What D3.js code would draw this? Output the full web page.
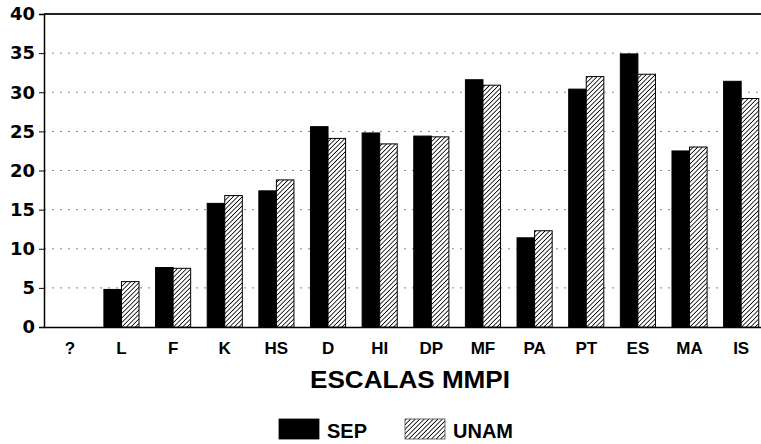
<!DOCTYPE html>
<html>
<head>
<meta charset="utf-8">
<script src="https://cdn.jsdelivr.net/npm/d3@7"></script>
<style>
  body { margin: 0; background: #fff; }
  text { fill: #000; }
</style>
</head>
<body>
<div class="chart"></div>
<script>
const categories = ['?', 'L', 'F', 'K', 'HS', 'D', 'HI', 'DP', 'MF', 'PA', 'PT', 'ES', 'MA', 'IS'];
const sepValues  = [0, 4.8, 7.6, 15.8, 17.4, 25.6, 24.8, 24.4, 31.6, 11.4, 30.4, 34.9, 22.5, 31.4];
const unamValues = [0, 5.8, 7.5, 16.8, 18.8, 24.1, 23.4, 24.3, 30.9, 12.3, 32.0, 32.3, 23.0, 29.2];
const yTicks = [0, 5, 10, 15, 20, 25, 30, 35, 40];
const seriesNames = ['SEP', 'UNAM'];

const fullWidth = 761;
const fullHeight = 444;
const margin = {top: 14, right: -6, bottom: 117, left: 44};
const width = fullWidth - margin.left - margin.right;
const height = fullHeight - margin.top - margin.bottom;

const labelFont = '"Liberation Sans", Arial, sans-serif';

const svg = d3.select('.chart')
    .append('svg')
        .attr('width', fullWidth)
        .attr('height', fullHeight);

// diagonal hatch for the UNAM bars
const hatch = svg.append('defs').append('pattern')
    .attr('id', 'hatch')
    .attr('patternUnits', 'userSpaceOnUse')
    .attr('width', 3.2)
    .attr('height', 3.2)
    .attr('patternTransform', 'rotate(45)');
hatch.append('rect').attr('width', 3.2).attr('height', 3.2).attr('fill', '#fff');
hatch.append('line')
    .attr('x1', 0).attr('y1', 0).attr('x2', 0).attr('y2', 3.2)
    .attr('stroke', '#000').attr('stroke-width', 1.6);

const g = svg.append('g')
    .attr('transform', `translate(${margin.left}, ${margin.top})`);

const yScale = d3.scaleLinear()
    .domain([0, 40])
    .range([height, 0]);

const xScale = d3.scaleBand()
    .domain(categories)
    .range([0, width])
    .paddingInner(0.32)
    .paddingOuter(0.16);

const xSub = d3.scaleBand()
    .domain(seriesNames)
    .range([0, xScale.bandwidth()]);

// dotted gridlines
g.append('g')
    .selectAll('line')
    .data(yTicks.filter(d => d > 0 && d < 40))
    .enter()
    .append('line')
    .attr('x1', 0)
    .attr('x2', width)
    .attr('y1', d => yScale(d))
    .attr('y2', d => yScale(d))
    .attr('stroke', '#888')
    .attr('stroke-width', 1)
    .attr('stroke-dasharray', '2,6');

// top border
g.append('line')
    .attr('x1', 0).attr('x2', width)
    .attr('y1', 0).attr('y2', 0)
    .attr('stroke', '#222').attr('stroke-width', 2);

const yAxis = d3.axisLeft(yScale)
    .tickValues(yTicks)
    .tickSize(5)
    .tickPadding(4);
const yG = g.append('g').call(yAxis);
yG.select('.domain').attr('stroke-width', 1.5);
yG.selectAll('text')
    .attr('font-family', '"DejaVu Sans", sans-serif')
    .attr('font-weight', 'bold')
    .attr('font-size', 18);

const xAxis = d3.axisBottom(xScale)
    .tickSize(0)
    .tickPadding(15);
const xG = g.append('g')
    .attr('transform', `translate(0, ${height})`)
    .call(xAxis);
xG.select('.domain').attr('stroke-width', 1.5);
xG.selectAll('text')
    .attr('font-family', labelFont)
    .attr('font-weight', 'bold')
    .attr('font-size', 17);

const rows = categories.map((c, i) => ({cat: c, values: [sepValues[i], unamValues[i]]}));

const groups = g.selectAll('.grp')
    .data(rows)
    .enter()
    .append('g')
    .attr('class', 'grp')
    .attr('transform', d => `translate(${xScale(d.cat)}, 0)`);

groups.selectAll('rect')
    .data(d => d.values.map((v, j) => ({name: seriesNames[j], value: v})))
    .enter()
    .append('rect')
    .filter(d => d.value > 0)
    .attr('x', d => xSub(d.name))
    .attr('y', d => yScale(d.value))
    .attr('width', xSub.bandwidth())
    .attr('height', d => height - yScale(d.value))
    .attr('fill', d => d.name === 'SEP' ? '#000' : 'url(#hatch)')
    .attr('stroke', '#000')
    .attr('stroke-width', 1);

// axis title
svg.append('text')
    .attr('x', 310)
    .attr('y', 388)
    .attr('textLength', 200)
    .attr('lengthAdjust', 'spacingAndGlyphs')
    .attr('font-family', labelFont)
    .attr('font-weight', 'bold')
    .attr('font-size', 23)
    .text('ESCALAS MMPI');

// legend
const legend = svg.append('g').attr('transform', 'translate(279, 419)');
const legendX = [0, 126];
seriesNames.forEach((name, i) => {
    legend.append('rect')
        .attr('x', legendX[i])
        .attr('y', 0)
        .attr('width', 40)
        .attr('height', 20)
        .attr('fill', i === 0 ? '#000' : 'url(#hatch)')
        .attr('stroke', i === 0 ? '#000' : '#444')
        .attr('stroke-width', 0.8);
    legend.append('text')
        .attr('x', legendX[i] + 48)
        .attr('y', 19)
        .attr('font-family', labelFont)
        .attr('font-weight', 'bold')
        .attr('font-size', 20)
        .text(name);
});
</script>
</body>
</html>
